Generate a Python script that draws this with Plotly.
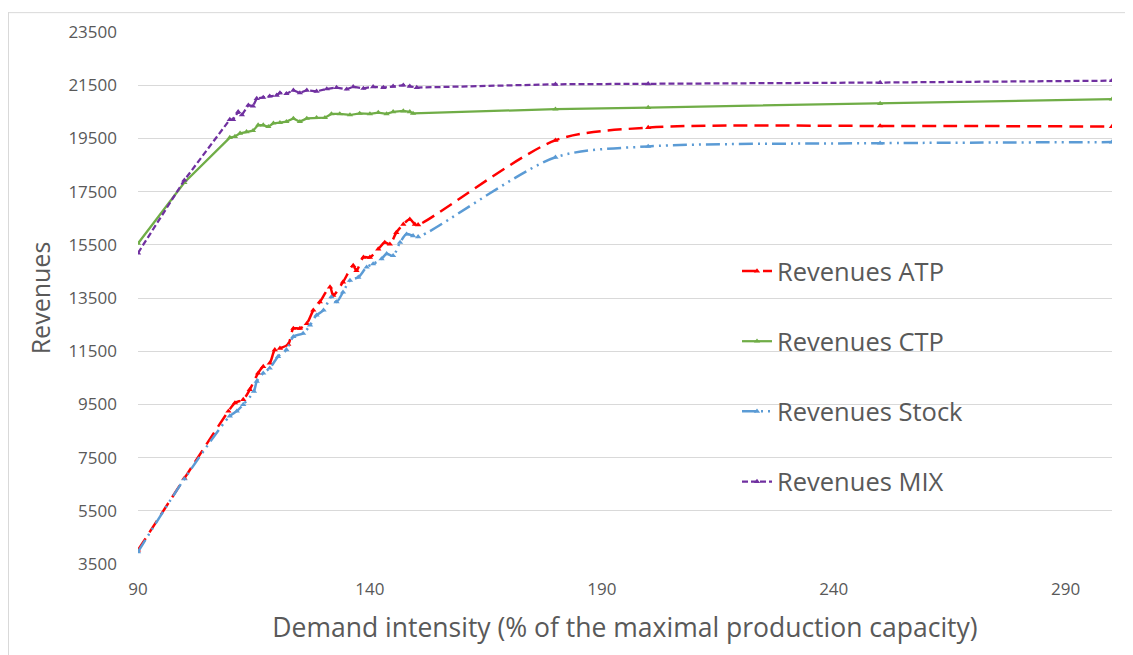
import plotly.graph_objects as go

# ---------------- data ----------------
atp_x = [90, 100, 109.5, 110.9, 112.7, 114.1, 115.9, 117.0, 118.4, 119.5, 120.6, 122.4, 123.5, 124.9,
         126.4, 127.8, 129.2, 131.4, 132.1, 134.2, 136.4, 137.1, 138.6, 140.0, 141.8, 143.2, 144.3,
         145.7, 147.2, 148.6, 149.7, 150.4, 180, 200, 250, 300]
atp_y = [4020, 6720, 9246, 9556, 9683, 10056, 10675, 10925, 11050, 11550, 11610, 11760, 12355, 12355,
         12540, 13040, 13350, 13910, 13600, 14100, 14720, 14530, 15030, 15030, 15340, 15590, 15525,
         15960, 16270, 16460, 16270, 16250, 19430, 19907, 19970, 19944]

stock_x = [90, 100, 109.8, 111.3, 112.7, 115.0, 115.6, 117.0, 118.4, 120.2, 122.0, 123.5, 125.6, 127.1,
           128.5, 130.0, 131.7, 132.8, 134.2, 135.7, 137.5, 139.3, 140.7, 142.5, 143.6, 145.0, 146.5,
           147.9, 149.3, 150.4, 180, 200, 250, 300]
stock_y = [3960, 6700, 9060, 9246, 9496, 9990, 10366, 10675, 10860, 11300, 11550, 12045, 12170, 12480,
           12855, 13040, 13540, 13350, 13720, 14160, 14280, 14660, 14780, 14970, 15160, 15090, 15590,
           15900, 15840, 15800, 18790, 19200, 19320, 19360]

ctp_x = [90, 100, 109.8, 110.9, 112.0, 113.4, 114.8, 115.9, 117.0, 118.1, 119.2, 120.6, 122.0, 123.5,
         124.9, 126.4, 128.5, 130.3, 131.7, 133.5, 135.7, 137.8, 140.0, 141.8, 143.6, 145.0, 147.2,
         148.6, 149.3, 180, 200, 250, 300]
ctp_y = [15550, 17840, 19530, 19570, 19690, 19750, 19790, 20000, 20000, 19940, 20070, 20090, 20130, 20250,
         20130, 20250, 20280, 20280, 20420, 20420, 20380, 20440, 20420, 20470, 20420, 20500, 20530,
         20500, 20440, 20600, 20660, 20810, 20975]

mix_x = [90, 100, 109.8, 110.5, 111.6, 112.4, 113.8, 114.8, 115.6, 117.0, 118.4, 119.9, 120.6, 122.0,
         123.5, 124.9, 126.4, 128.5, 130.7, 132.8, 135.0, 136.4, 138.6, 140.7, 142.9, 145.0, 147.2,
         148.6, 150.1, 180, 200, 250, 300]
mix_y = [15190, 17930, 20210, 20210, 20500, 20380, 20750, 20710, 21000, 21040, 21085, 21120, 21210, 21180,
         21310, 21210, 21310, 21270, 21360, 21410, 21350, 21440, 21380, 21440, 21410, 21460, 21500,
         21460, 21410, 21534, 21550, 21600, 21670]

series_names = ["Revenues ATP", "Revenues CTP", "Revenues Stock", "Revenues MIX"]
x_ticks = [90, 140, 190, 240, 290]
y_ticks = [3500, 5500, 7500, 9500, 11500, 13500, 15500, 17500, 19500, 21500, 23500]

# ---------------- figure ----------------
FONT = "Open Sans"
GREY = "#595959"

fig = go.Figure()

def add(x, y, name, color, dash, shape, width, group):
    fig.add_trace(go.Scatter(
        x=x, y=y, name=name, mode="lines+markers",
        line=dict(color=color, width=width, dash=dash, shape=shape, smoothing=0.8),
        marker=dict(symbol="triangle-up", size=5.5, color=color),
        legendgroup=group,
    ))

add(atp_x, atp_y, series_names[0], "#FF0000", "14px,7px", "spline", 2.5, "a")
add(ctp_x, ctp_y, series_names[1], "#70AD47", "solid", "linear", 2.25, "b")
add(stock_x, stock_y, series_names[2], "#5B9BD5", "14px,5px,2px,5px,2px,5px", "spline", 2.5, "c")
add(mix_x, mix_y, series_names[3], "#7030A0", "6px,3px", "linear", 2.25, "d")

# page body has an 8px margin; plot area spans x 138..1112, y 28..564 on the page
fig.update_layout(
    width=1133, height=655,
    margin=dict(l=130, r=29, t=20, b=99),
    paper_bgcolor="white", plot_bgcolor="white",
    font=dict(family=FONT, color=GREY),
    showlegend=True,
    legend=dict(
        x=0.615, y=0.594, xanchor="left", yanchor="top",
        font=dict(family=FONT, size=25.5, color=GREY),
        tracegroupgap=34, itemwidth=30, bgcolor="rgba(0,0,0,0)",
    ),
    xaxis=dict(
        range=[90, 300], tickmode="array", tickvals=x_ticks,
        ticktext=[str(v) for v in x_ticks],
        showgrid=False, zeroline=False, showline=False, ticks="",
        tickfont=dict(family=FONT, size=17, color=GREY), ticklabelstandoff=13,
        title=dict(text="Demand intensity (% of the maximal production capacity)",
                   font=dict(family=FONT, size=26.5, color=GREY), standoff=19),
    ),
    yaxis=dict(
        range=[3500, 23500], tickmode="array", tickvals=y_ticks,
        ticktext=[str(v) for v in y_ticks],
        showgrid=True, gridcolor="#D9D9D9", gridwidth=1, zeroline=False, showline=False, ticks="",
        tickfont=dict(family=FONT, size=17, color=GREY), ticklabelstandoff=20,
        title=dict(text="Revenues", font=dict(family=FONT, size=25, color=GREY), standoff=10),
    ),
    shapes=[
        dict(type="line", xref="paper", yref="paper",
             x0=(8 - 138) / 974, x1=(1140 - 138) / 974, y0=(564 - 8.5) / 536, y1=(564 - 8.5) / 536,
             line=dict(color="#D9D9D9", width=1)),
        dict(type="line", xref="paper", yref="paper",
             x0=(8.5 - 138) / 974, x1=(8.5 - 138) / 974, y0=(564 - 8) / 536, y1=(564 - 660) / 536,
             line=dict(color="#D9D9D9", width=1)),
    ],
)

fig.write_html("out.html")
